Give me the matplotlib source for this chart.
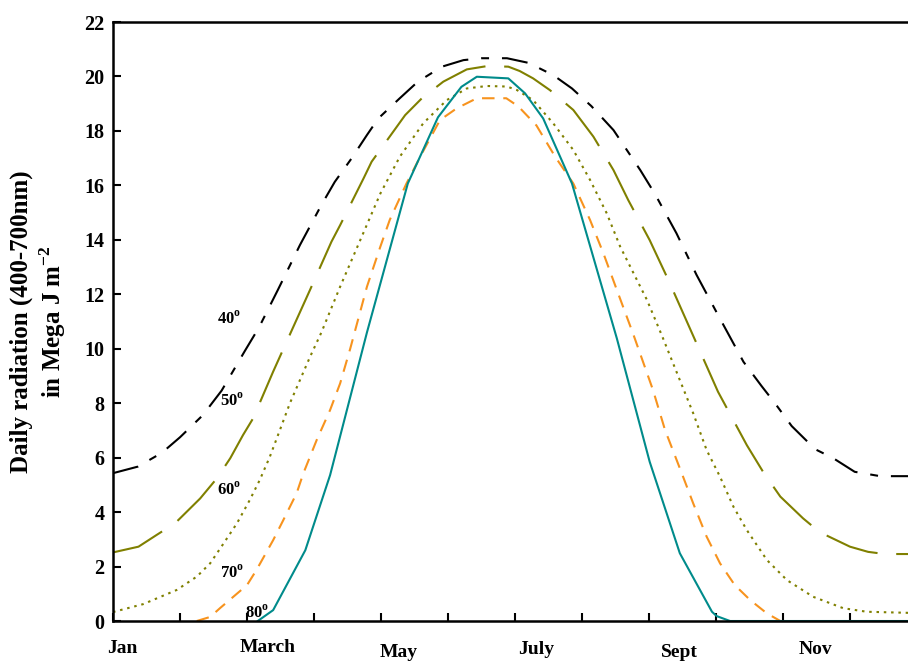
"""
Daily PAR radiation by latitude over the year.
"""

import matplotlib
matplotlib.use("Agg")
import matplotlib.pyplot as plt
import numpy as np

plt.rcParams["font.family"] = ["Liberation Serif", "DejaVu Serif"]
plt.rcParams["font.weight"] = "bold"
plt.rcParams["mathtext.fontset"] = "custom"
plt.rcParams["mathtext.rm"] = "Liberation Serif:bold"
plt.rcParams["mathtext.bf"] = "Liberation Serif:bold"

# x values are in months from 1 Jan (0 = start of Jan)
x40 = [0.00, 0.37, 0.73, 1.00, 1.34, 1.62, 1.97, 2.18, 2.46, 2.79, 3.11, 3.31,
       3.56, 3.79, 3.96, 4.28, 4.55, 4.91, 5.23, 5.50, 5.88, 6.20, 6.57, 6.85,
       7.14, 7.47, 7.87, 8.09, 8.41, 8.71, 9.03, 9.41, 9.68, 9.88, 10.13,
       10.48, 10.75, 11.07, 11.45, 11.87]
y40 = [5.43, 5.67, 6.18, 6.75, 7.56, 8.46, 9.93, 10.79, 12.16, 13.81, 15.28,
       16.13, 16.99, 17.85, 18.46, 19.20, 19.81, 20.36, 20.60, 20.67, 20.67,
       20.50, 20.05, 19.56, 18.91, 18.03, 16.56, 15.68, 14.24, 12.71, 11.24,
       9.52, 8.63, 8.00, 7.16, 6.31, 5.98, 5.48, 5.32, 5.32]

x50 = [0.00, 0.38, 0.65, 0.93, 1.30, 1.55, 1.75, 1.94, 2.09, 2.39, 2.67, 2.94,
       3.26, 3.39, 3.74, 3.86, 4.36, 4.61, 4.93, 5.28, 5.58, 5.90, 6.07, 6.27,
       6.52, 6.87, 7.17, 7.47, 7.69, 8.01, 8.29, 8.61, 9.03, 9.46, 9.71, 9.96,
       10.30, 10.55, 11.00, 11.27, 11.52, 11.87]
y50 = [2.52, 2.73, 3.16, 3.60, 4.50, 5.24, 5.98, 6.83, 7.44, 9.16, 10.69,
       12.16, 13.93, 14.54, 16.26, 16.87, 18.58, 19.20, 19.81, 20.26, 20.38,
       20.36, 20.20, 19.93, 19.50, 18.77, 17.79, 16.56, 15.46, 13.99, 12.52,
       10.75, 8.42, 6.46, 5.45, 4.57, 3.77, 3.26, 2.73, 2.54, 2.46, 2.46]

x60 = [0.00, 0.45, 0.95, 1.25, 1.45, 1.65, 1.85, 2.04, 2.19, 2.34, 2.49, 2.64,
       2.79, 2.94, 3.11, 3.39, 3.69, 3.99, 4.28, 4.63, 4.98, 5.28, 5.58, 5.88,
       6.03, 6.27, 6.57, 6.87, 7.12, 7.37, 7.57, 7.77, 7.97, 8.19, 8.46, 8.66,
       8.86, 9.06, 9.26, 9.46, 9.76, 10.06, 10.45, 10.90, 11.25, 11.87]
y60 = [0.33, 0.62, 1.14, 1.63, 2.12, 2.85, 3.59, 4.44, 5.18, 6.03, 7.01, 8.00,
       8.85, 9.70, 10.60, 12.28, 13.99, 15.70, 17.05, 18.28, 19.13, 19.56,
       19.65, 19.63, 19.50, 19.13, 18.28, 17.30, 16.20, 14.97, 13.75, 12.77,
       11.79, 10.50, 8.85, 7.63, 6.28, 5.30, 4.20, 3.34, 2.24, 1.50, 0.89,
       0.47, 0.34, 0.30]

x70 = [1.25, 1.45, 1.60, 2.00, 2.14, 2.39, 2.54, 2.74, 2.84, 3.04, 3.24,
       3.39, 3.54, 3.79, 3.99, 4.13, 4.38, 4.61, 4.88, 5.13, 5.43, 5.87, 6.05,
       6.32, 6.60, 6.87, 7.12, 7.32, 7.52, 7.77, 8.06, 8.24, 8.49, 8.66, 8.86,
       9.06, 9.28, 9.51, 9.76, 9.96]
y70 = [0.00, 0.15, 0.48, 1.32, 1.87, 2.97, 3.70, 4.69, 5.42, 6.65, 7.75,
       8.73, 10.00, 12.28, 13.75, 14.73, 16.07, 17.17, 18.40, 18.83, 19.20,
       19.20, 18.90, 18.20, 17.05, 16.07, 14.73, 13.50, 12.16, 10.50, 8.48,
       7.01, 5.42, 4.32, 3.10, 2.12, 1.32, 0.77, 0.28, 0.00]

x80 = [2.16, 2.39, 2.87, 3.24, 3.79, 4.40, 4.85, 5.20, 5.43, 5.90, 6.15,
       6.42, 6.85, 7.52, 8.01, 8.46, 8.94, 9.01, 9.21, 11.87]
y80 = [0.00, 0.40, 2.60, 5.36, 10.60, 16.07, 18.50, 19.62, 19.99, 19.93,
       19.38, 18.46, 16.07, 10.38, 5.85, 2.49, 0.34, 0.18, 0.00, 0.00]

lat_labels = ["40", "50", "60", "70", "80"]
lat_label_x = [1.55, 1.59, 1.555, 1.59, 1.975]
lat_label_y = [11.09, 8.08, 4.81, 1.75, 0.29]

months = ["Jan", "March", "May", "July", "Sept", "Nov"]
month_x = [0.14, 2.31, 4.27, 6.31, 8.46, 10.49]
month_y = [-0.70, -0.66, -0.84, -0.73, -0.84, -0.73]


def main():
    fig = plt.figure(figsize=(9.08, 6.61), dpi=100)
    ax = fig.add_axes([0.1245, 0.0605, 0.8755, 0.9062])

    lw = 1.5
    ax.plot(x40, y40, color="black", lw=lw, dashes=(12.5, 6.2, 3.8, 6.2))
    ax.plot(x50, y50, color="#808000", lw=lw, dashes=(26, 9))
    ax.plot(x60, y60, color="#808000", lw=lw, dashes=(1.2, 2.3))
    ax.plot(x70, y70, color="#f7931e", lw=lw, dashes=(6, 4.2))
    ax.plot(x80, y80, color="#008b8b", lw=lw)

    for lab, lx, ly in zip(lat_labels, lat_label_x, lat_label_y):
        ax.text(lx, ly, lab + r"$^{\mathbf{o}}$", fontsize=12, fontweight="bold",
                ha="left", va="center")

    ax.set_xlim(0, 11.866)
    ax.set_ylim(0, 22)
    ax.set_xticks(np.arange(0, 12))
    ax.set_xticklabels([])
    ax.set_yticks(np.arange(0, 23, 2))
    ax.tick_params(direction="in", length=6, width=1.5, labelsize=14.5, pad=6)
    for t in ax.get_yticklabels():
        t.set_fontweight("bold")

    for m, mx, my in zip(months, month_x, month_y):
        ax.text(mx, my, m, fontsize=14, fontweight="bold", ha="center", va="top")

    ax.spines["right"].set_visible(False)
    for s in ["left", "bottom", "top"]:
        ax.spines[s].set_linewidth(1.8)

    fig.text(0.043, 0.514, "Daily radiation (400-700nm)\nin Mega J m$^{\\mathbf{-2}}$",
             rotation=90, ha="center", va="center", fontsize=18,
             fontweight="bold", multialignment="center", linespacing=1.2)

    fig.savefig("out.png", dpi=100)


if __name__ == "__main__":
    main()
